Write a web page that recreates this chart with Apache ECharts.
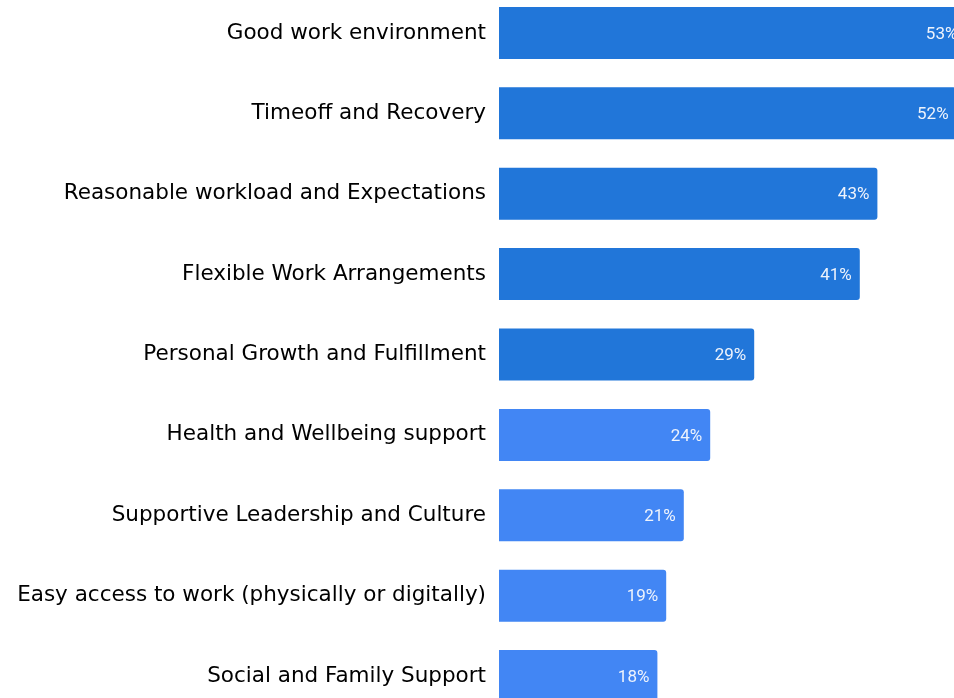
<!DOCTYPE html>
<html>
<head>
<meta charset="utf-8">
<style>
  html, body { margin: 0; padding: 0; background: #ffffff; overflow: hidden; }
  #chart { width: 954px; height: 698px; }
</style>
<script src="https://cdn.jsdelivr.net/npm/echarts@6/dist/echarts.min.js"></script>
</head>
<body>
<div id="chart"></div>
<script>
// Survey factors, most cited first
const categories = [
  'Good work environment',
  'Timeoff and Recovery',
  'Reasonable workload and Expectations',
  'Flexible Work Arrangements',
  'Personal Growth and Fulfillment',
  'Health and Wellbeing support',
  'Supportive Leadership and Culture',
  'Easy access to work (physically or digitally)',
  'Social and Family Support'
];
const shares = [53, 52, 43, 41, 29, 24, 21, 19, 18];
// top five are highlighted in the darker shade
const highlightCount = 5;

const darkBlue = '#2176d9';
const lightBlue = '#4286f4';

const chart = echarts.init(document.getElementById('chart'), null, { renderer: 'canvas' });

chart.setOption({
  animation: false,
  grid: {
    left: 499, top: -7.2, width: 528, height: 723.4,
    containLabel: false,
    outerBoundsMode: 'none'
  },
  xAxis: {
    type: 'value', min: 0, max: 60,
    show: false
  },
  yAxis: {
    type: 'category',
    data: categories,
    inverse: true,
    axisLine: { show: false },
    axisTick: { show: false },
    splitLine: { show: false },
    axisLabel: {
      margin: 13,
      fontFamily: 'DejaVu Sans',
      fontSize: 21.5,
      color: '#000000',
      padding: [3, 0, 0, 0]
    }
  },
  series: [{
    type: 'bar',
    barWidth: 52,
    data: shares.map((v, i) => ({
      value: v,
      itemStyle: { color: i < highlightCount ? darkBlue : lightBlue }
    })),
    itemStyle: { borderRadius: [0, 3, 3, 0] },
    label: {
      show: true,
      position: 'insideRight',
      distance: 8,
      offset: [0, 1.5],
      formatter: p => p.value + '%',
      fontFamily: 'Roboto',
      fontSize: 17,
      color: '#eef3fc'
    }
  }]
});
</script>
</body>
</html>
